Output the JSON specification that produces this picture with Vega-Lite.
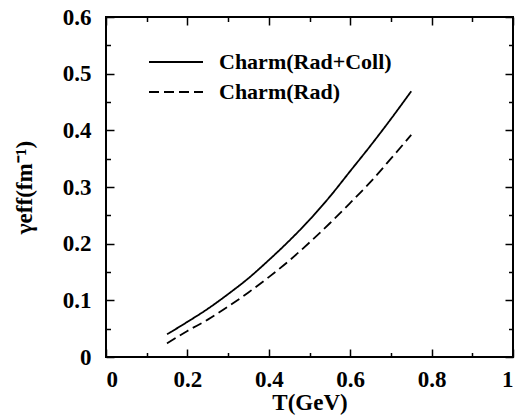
{
  "$schema": "https://vega.github.io/schema/vega-lite/v6.json",
  "autosize": {"type": "none"},
  "width": 407,
  "height": 340,
  "padding": {"left": 106, "top": 17, "right": 16, "bottom": 58},
  "background": "white",
  "config": {
    "view": {"stroke": "black", "strokeWidth": 2},
    "font": "Liberation Serif",
    "axis": {"domain": false, "grid": false, "tickColor": "black", "tickWidth": 1.5, "labelFont": "Liberation Serif", "labelFontWeight": "bold", "labelFontSize": 23, "labelColor": "black", "titleFont": "Liberation Serif", "titleFontWeight": "bold", "titleFontSize": 23, "titleColor": "black"}
  },
  "datasets": {
    "curves": [
      {"T": 0.15, "g": 0.040, "s": "Charm(Rad+Coll)"},
      {"T": 0.2, "g": 0.062, "s": "Charm(Rad+Coll)"},
      {"T": 0.25, "g": 0.085, "s": "Charm(Rad+Coll)"},
      {"T": 0.3, "g": 0.111, "s": "Charm(Rad+Coll)"},
      {"T": 0.35, "g": 0.139, "s": "Charm(Rad+Coll)"},
      {"T": 0.4, "g": 0.171, "s": "Charm(Rad+Coll)"},
      {"T": 0.45, "g": 0.205, "s": "Charm(Rad+Coll)"},
      {"T": 0.5, "g": 0.242, "s": "Charm(Rad+Coll)"},
      {"T": 0.55, "g": 0.283, "s": "Charm(Rad+Coll)"},
      {"T": 0.6, "g": 0.328, "s": "Charm(Rad+Coll)"},
      {"T": 0.65, "g": 0.373, "s": "Charm(Rad+Coll)"},
      {"T": 0.7, "g": 0.420, "s": "Charm(Rad+Coll)"},
      {"T": 0.75, "g": 0.469, "s": "Charm(Rad+Coll)"},
      {"T": 0.15, "g": 0.024, "s": "Charm(Rad)"},
      {"T": 0.2, "g": 0.046, "s": "Charm(Rad)"},
      {"T": 0.25, "g": 0.066, "s": "Charm(Rad)"},
      {"T": 0.3, "g": 0.089, "s": "Charm(Rad)"},
      {"T": 0.35, "g": 0.114, "s": "Charm(Rad)"},
      {"T": 0.4, "g": 0.141, "s": "Charm(Rad)"},
      {"T": 0.45, "g": 0.170, "s": "Charm(Rad)"},
      {"T": 0.5, "g": 0.202, "s": "Charm(Rad)"},
      {"T": 0.55, "g": 0.236, "s": "Charm(Rad)"},
      {"T": 0.6, "g": 0.272, "s": "Charm(Rad)"},
      {"T": 0.65, "g": 0.309, "s": "Charm(Rad)"},
      {"T": 0.7, "g": 0.350, "s": "Charm(Rad)"},
      {"T": 0.75, "g": 0.392, "s": "Charm(Rad)"}
    ]
  },
  "data": {"name": "curves"},
  "resolve": {"axis": {"x": "independent", "y": "independent"}},
  "layer": [
    {
      "mark": {"type": "line", "color": "black", "strokeWidth": 1.8, "interpolate": "monotone"},
      "encoding": {
        "x": {"field": "T", "type": "quantitative", "scale": {"domain": [0, 1], "nice": false},
              "axis": {"orient": "bottom", "values": [0, 0.2, 0.4, 0.6, 0.8, 1], "tickSize": -8, "labelPadding": 19,
                       "labelExpr": "datum.value == 0 || datum.value == 1 ? format(datum.value, 'd') : format(datum.value, '.1f')",
                       "title": "T(GeV)", "titlePadding": 0}},
        "y": {"field": "g", "type": "quantitative", "scale": {"domain": [0, 0.6], "nice": false},
              "axis": {"orient": "left", "values": [0, 0.1, 0.2, 0.3, 0.4, 0.5, 0.6], "tickSize": -8, "labelPadding": 23,
                       "labelExpr": "datum.value == 0 ? '0' : format(datum.value, '.1f')",
                       "title": "γeff(fm⁻¹)", "titlePadding": 26}},
        "strokeDash": {"field": "s", "type": "nominal",
                       "scale": {"domain": ["Charm(Rad+Coll)", "Charm(Rad)"], "range": [[1, 0], [10, 5]]},
                       "legend": {"orient": "none", "legendX": 42, "legendY": 30, "title": null,
                                  "symbolType": "stroke", "symbolSize": 2916, "symbolStrokeWidth": 1.8, "symbolStrokeColor": "black",
                                  "labelFont": "Liberation Serif", "labelFontWeight": "bold", "labelFontSize": 22, "labelColor": "black",
                                  "labelLimit": 400, "labelOffset": 15, "rowPadding": 0, "clipHeight": 30}}
      }
    },
    {
      "mark": {"type": "line", "opacity": 0},
      "encoding": {
        "x": {"field": "T", "type": "quantitative", "axis": {"orient": "top", "values": [0, 0.2, 0.4, 0.6, 0.8, 1], "tickSize": -8, "labels": false, "title": null}},
        "y": {"field": "g", "type": "quantitative", "axis": {"orient": "right", "values": [0, 0.1, 0.2, 0.3, 0.4, 0.5, 0.6], "tickSize": -8, "labels": false, "title": null}},
        "detail": {"field": "s"}
      }
    },
    {
      "mark": {"type": "line", "opacity": 0},
      "encoding": {
        "x": {"field": "T", "type": "quantitative", "axis": {"orient": "bottom", "values": [0.1, 0.3, 0.5, 0.7, 0.9], "tickSize": -4.5, "labels": false, "title": null}},
        "y": {"field": "g", "type": "quantitative", "axis": {"orient": "left", "values": [0.05, 0.15, 0.25, 0.35, 0.45, 0.55], "tickSize": -4.5, "labels": false, "title": null}},
        "detail": {"field": "s"}
      }
    },
    {
      "mark": {"type": "line", "opacity": 0},
      "encoding": {
        "x": {"field": "T", "type": "quantitative", "axis": {"orient": "top", "values": [0.1, 0.3, 0.5, 0.7, 0.9], "tickSize": -4.5, "labels": false, "title": null}},
        "y": {"field": "g", "type": "quantitative", "axis": {"orient": "right", "values": [0.05, 0.15, 0.25, 0.35, 0.45, 0.55], "tickSize": -4.5, "labels": false, "title": null}},
        "detail": {"field": "s"}
      }
    }
  ]
}
